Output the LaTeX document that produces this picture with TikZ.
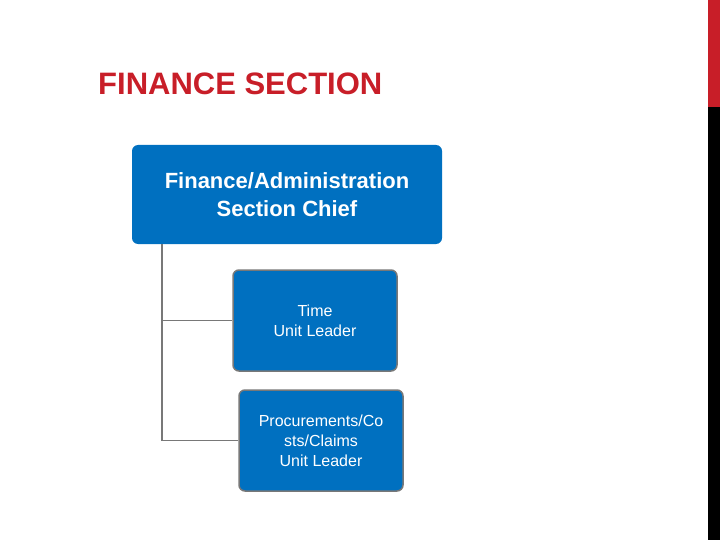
\documentclass[tikz,border=0pt]{standalone}
\usepackage{fontspec}
\setmainfont{Liberation Sans}
\definecolor{tred}{RGB}{200,30,40}
\definecolor{bblue}{RGB}{0,112,192}
\definecolor{lgrey}{RGB}{120,120,120}
\begin{document}
\begin{tikzpicture}[x=1pt,y=-1pt,
  box/.style={fill=bblue,rounded corners=6pt,text=white,align=center,inner sep=0pt},
  link/.style={draw=lgrey,line width=1.2pt}]
\useasboundingbox (0,0) rectangle (720,540);
\fill[tred] (708,0) rectangle (720,107);
\fill[black] (708,107) rectangle (720,540);
\node[anchor=base west,text=tred,font=\bfseries\fontsize{31}{36}\selectfont,inner sep=0pt] (title) at (98,95) {FINANCE SECTION};
\node[box,minimum width=310pt,minimum height=99pt,font=\bfseries\fontsize{22}{28}\selectfont] (chief) at (287,194.5) {Finance/Administration\\Section Chief};
\node[box,draw=lgrey,line width=1.5pt,minimum width=164pt,minimum height=101pt,font=\fontsize{16}{20}\selectfont] (time) at (315,320.5) {Time\\Unit Leader};
\node[box,draw=lgrey,line width=1.5pt,minimum width=164pt,minimum height=101pt,font=\fontsize{16}{20}\selectfont] (proc) at (321,440.5) {Procurements/Co\\sts/Claims\\Unit Leader};
\coordinate (top) at (162,244);
\draw[link] (top) |- (time.west);
\draw[link] (top) |- (proc.west);
\end{tikzpicture}
\end{document}
